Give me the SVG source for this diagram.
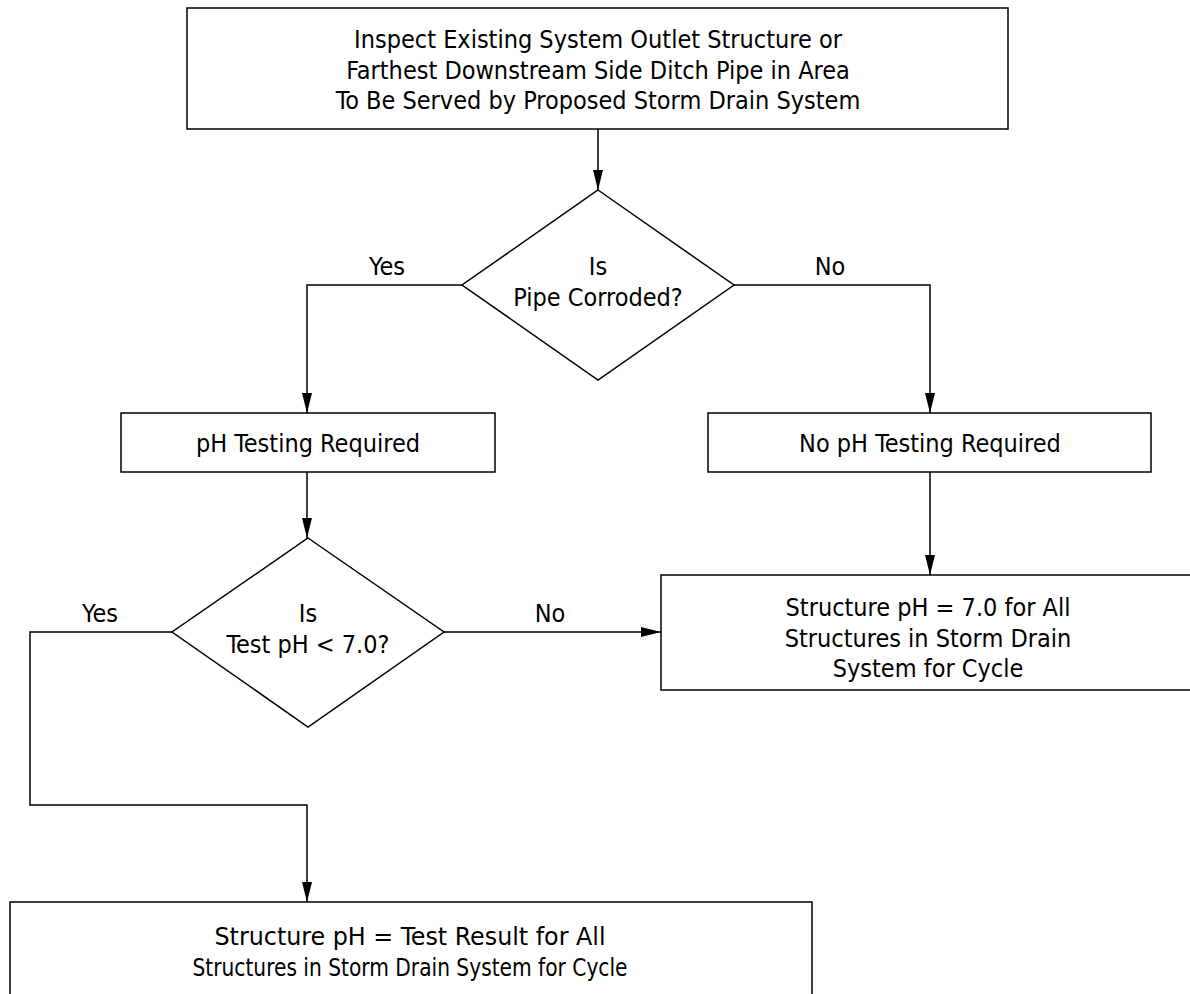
<svg xmlns="http://www.w3.org/2000/svg" width="1190" height="994" viewBox="0 0 1190 994">
<defs>
<style>
.box{fill:#fff;stroke:#000;stroke-width:1.5}
.t{font-family:"DejaVu Sans Condensed","DejaVu Sans",sans-serif;font-size:25px;fill:#000;text-anchor:middle}
.c{fill:none;stroke:#000;stroke-width:1.5;marker-end:url(#arr)}
</style>
<marker id="arr" markerUnits="userSpaceOnUse" markerWidth="20" markerHeight="10" refX="20" refY="5" orient="auto">
<path d="M0,0 L20,5 L0,10 z" fill="#000"/>
</marker>
</defs>
<rect width="1190" height="994" fill="#fff"/>
<g id="connectors">
<path class="c" d="M598,129 V190"/>
<path class="c" d="M462,285 H307 V413"/>
<path class="c" d="M734,285 H930 V413"/>
<path class="c" d="M307,472 V538"/>
<path class="c" d="M930,472 V575"/>
<path class="c" d="M444,632 H661"/>
<path class="c" d="M172,632 H30 V805 H307 V902"/>
<text class="t" x="387" y="275">Yes</text>
<text class="t" x="830" y="275">No</text>
<text class="t" x="100" y="622">Yes</text>
<text class="t" x="550" y="622">No</text>
</g>
<g id="inspect">
<rect class="box" x="187" y="8" width="821" height="121"/>
<text class="t" x="598" y="48">Inspect Existing System Outlet Structure or</text>
<text class="t" x="598" y="79">Farthest Downstream Side Ditch Pipe in Area</text>
<text class="t" x="598" y="109">To Be Served by Proposed Storm Drain System</text>
</g>
<g id="corroded">
<polygon class="box" points="598,190 734,285 598,380 462,285"/>
<text class="t" x="598" y="275">Is</text>
<text class="t" x="598" y="306">Pipe Corroded?</text>
</g>
<g id="phTesting">
<rect class="box" x="121" y="413" width="374" height="59"/>
<text class="t" x="308" y="452">pH Testing Required</text>
</g>
<g id="noPhTesting">
<rect class="box" x="708" y="413" width="443" height="59"/>
<text class="t" x="930" y="452">No pH Testing Required</text>
</g>
<g id="testPh">
<polygon class="box" points="308,538 444,632 308,727 172,632"/>
<text class="t" x="308" y="622">Is</text>
<text class="t" x="308" y="653">Test pH &lt; 7.0?</text>
</g>
<g id="ph7">
<rect class="box" x="661" y="575" width="535" height="115"/>
<text class="t" x="928" y="616">Structure pH = 7.0 for All</text>
<text class="t" x="928" y="647">Structures in Storm Drain</text>
<text class="t" x="928" y="677">System for Cycle</text>
</g>
<g id="phResult">
<rect class="box" x="10" y="902" width="802" height="110"/>
<text class="t" x="410" y="945" textLength="391" lengthAdjust="spacingAndGlyphs">Structure pH = Test Result for All</text>
<text class="t" x="410" y="976" textLength="435" lengthAdjust="spacingAndGlyphs">Structures in Storm Drain System for Cycle</text>
</g>
</svg>
